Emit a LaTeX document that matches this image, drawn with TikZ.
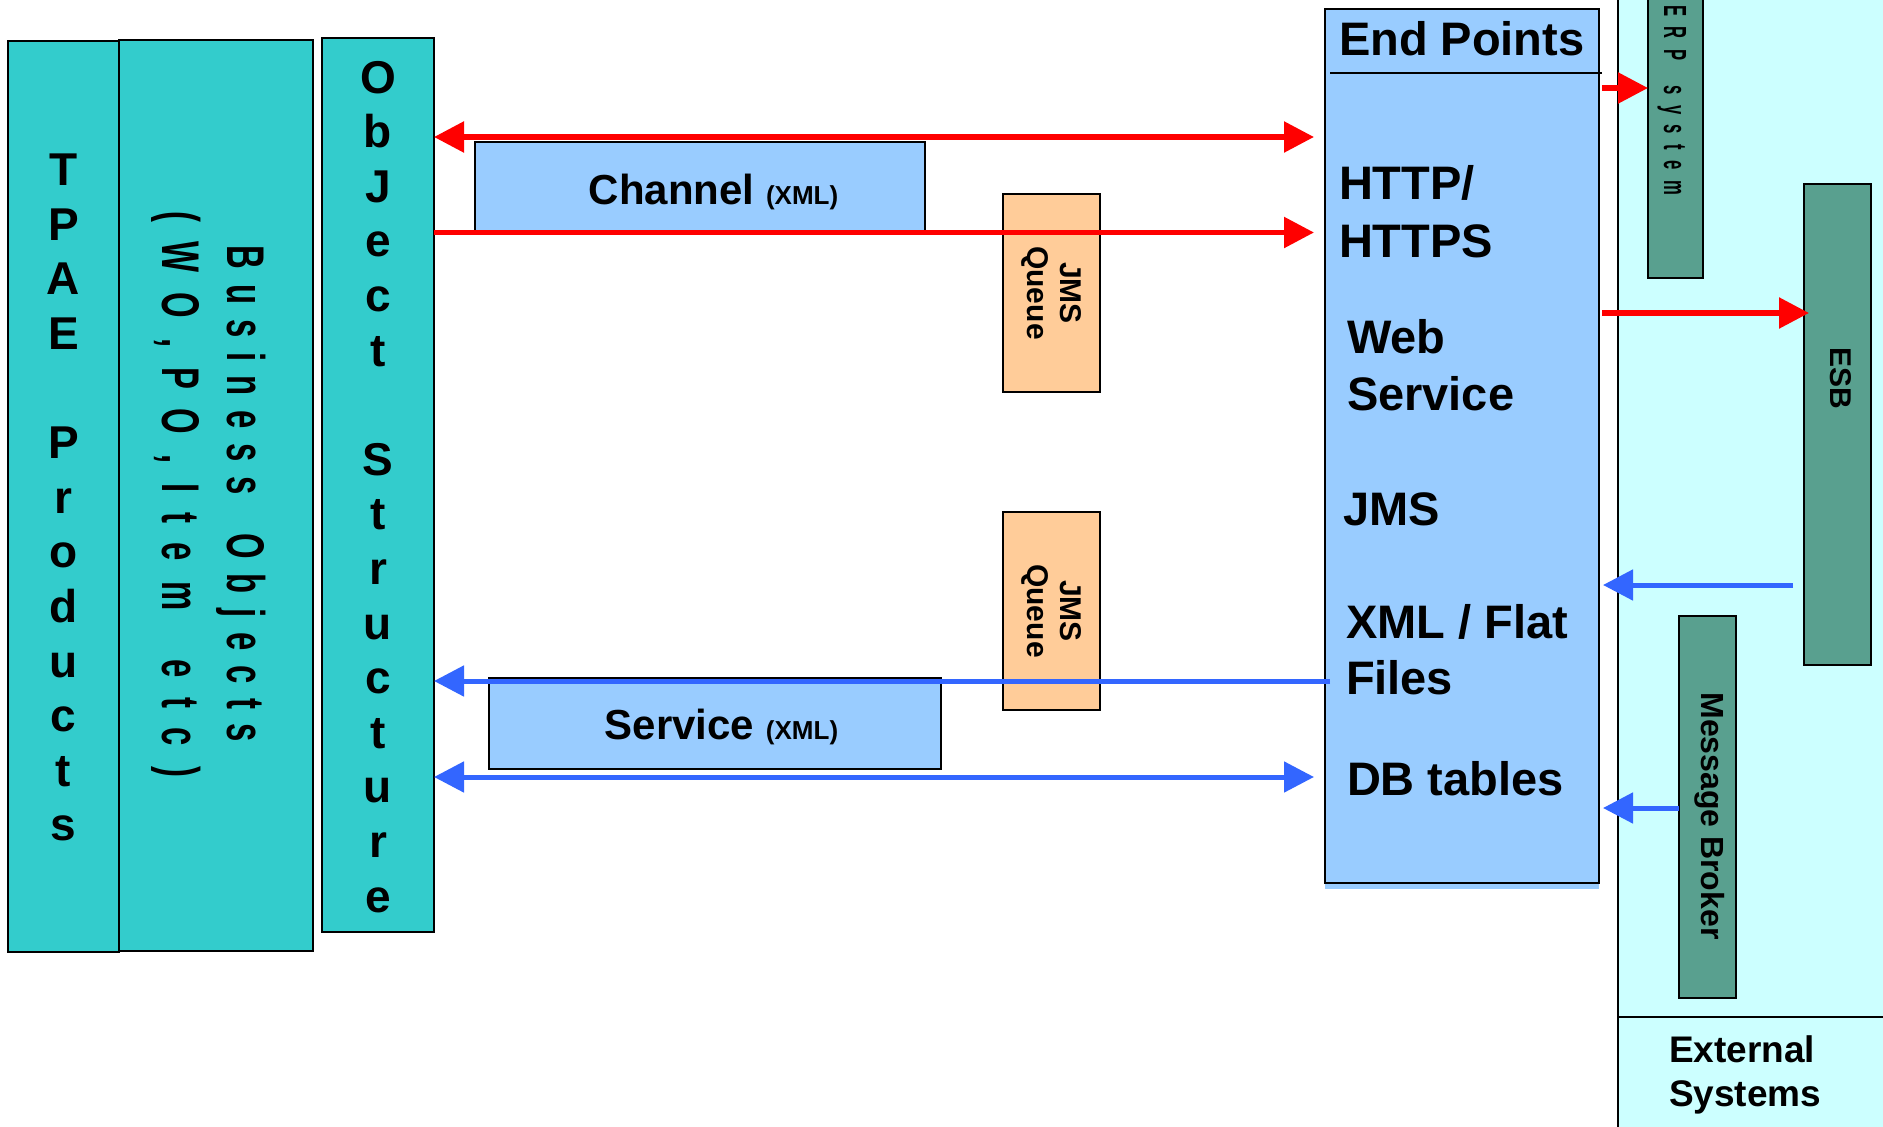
\documentclass[tikz,border=0pt]{standalone}
\usepackage{fontspec}
\setmainfont{Liberation Sans}
\usepackage{graphicx}
\usetikzlibrary{arrows.meta,calc}
\definecolor{tealA}{HTML}{33CCCC}
\definecolor{epblue}{HTML}{99CCFF}
\definecolor{peach}{HTML}{FFCC99}
\definecolor{extgreen}{HTML}{59A08F}
\definecolor{extfill}{HTML}{CCFFFF}
\definecolor{arrred}{HTML}{FF0000}
\definecolor{arrblue}{HTML}{3366FF}
\newdimen\lspc
\def\spcA#1{#1\spcB}
\def\spcB#1{\ifx#1\relax\else\kern\lspc#1\expandafter\spcB\fi}
\tikzset{
  tri/.tip={Triangle[length=30pt,width=30pt]},
  box/.style={draw=black, line width=2.2pt, inner sep=0pt, outer sep=0pt},
  region/.style={fill=extfill, draw=none, inner sep=0pt, outer sep=0pt},
  redline/.style={draw=arrred, fill=arrred, line width=5.5pt},
  blueline/.style={draw=arrblue, fill=arrblue, line width=5pt},
  lbl/.style={inner sep=0pt, outer sep=0pt, font=\bfseries},
}
\begin{document}
\begin{tikzpicture}[x=1pt,y=-1pt]
\useasboundingbox (0,0) rectangle (1883,1127);
\fill[white] (0,0) rectangle (1883,1127);

% external systems region
\node[region, minimum width=272pt, minimum height=1140pt] (ext) at (1754,565) {};
\draw[line width=2pt] (ext.north west) -- (ext.south west);
\draw[line width=2pt] (ext.west |- 0,1016.5) -- (ext.east |- 0,1016.5);

% left columns
\node[box, fill=tealA, minimum width=111pt, minimum height=911pt] (tpae) at (63.5,496.5) {};
\node[box, fill=tealA, minimum width=194pt, minimum height=911pt] (bo) at (216,495.5) {};
\node[box, fill=tealA, minimum width=112pt, minimum height=894pt] (obj) at (378,485) {};

\node[lbl, anchor=north, align=center, font=\fontsize{46pt}{54.6pt}\selectfont\bfseries] (tpaet) at (63.5,154)
  {T\\P\\A\\E\\~\\P\\r\\o\\d\\u\\c\\t\\s};
\node[lbl, anchor=north, align=center, font=\fontsize{46pt}{54.6pt}\selectfont\bfseries] (objt) at (378,61)
  {O\\b\\J\\e\\c\\t\\~\\S\\t\\r\\u\\c\\t\\u\\r\\e};
\node[lbl, rotate=-90, anchor=north, align=center, font=\fontsize{53pt}{65pt}\selectfont\bfseries] (bot) at (266,494)
  {\scalebox{0.62}[1]{\lspc=23.7pt\spcA Business~Objects\relax}\\
   \scalebox{0.62}[1]{\lspc=32pt\spcA (WO,PO,Item~etc)\relax}};

% middle boxes
\node[box, line width=2pt, fill=epblue, minimum width=450pt, minimum height=89pt] (chan) at (700,186.5) {};
\node[lbl, anchor=base, font=\fontsize{42pt}{50pt}\selectfont\bfseries] (chant) at (713.5,204)
  {Channel {\fontsize{26pt}{30pt}\selectfont(XML)}};
\node[box, line width=2pt, fill=epblue, minimum width=452pt, minimum height=91pt] (serv) at (715,723.5) {};
\node[lbl, anchor=base, font=\fontsize{42pt}{50pt}\selectfont\bfseries] (servt) at (721.5,739)
  {Service {\fontsize{26pt}{30pt}\selectfont(XML)}};

\node[box, fill=peach, minimum width=97pt, minimum height=198pt] (jmsA) at (1051.5,293) {};
\node[lbl, rotate=-90, align=center, font=\fontsize{30pt}{33pt}\selectfont\bfseries] (jmsAt) at (jmsA) {JMS\\Queue};
\node[box, fill=peach, minimum width=97pt, minimum height=198pt] (jmsB) at (1051.5,611) {};
\node[lbl, rotate=-90, align=center, font=\fontsize{30pt}{33pt}\selectfont\bfseries] (jmsBt) at (jmsB) {JMS\\Queue};

% end points
\node[box, fill=epblue, minimum width=274pt, minimum height=874pt] (ep) at (1462,446) {};
\fill[epblue] ($(ep.south west)+(0,1.2)$) rectangle ($(ep.south east)+(0,6)$);
\draw[line width=2pt] ($(ep.west |- 0,73)+(5,0)$) -- ($(ep.east |- 0,73)+(3,0)$);
\node[lbl, anchor=base west, font=\fontsize{47pt}{57pt}\selectfont\bfseries] (ept) at (1339,55) {End Points};
\node[lbl, anchor=north west, align=left, font=\fontsize{47pt}{58pt}\selectfont\bfseries] (http) at (1339,165) {HTTP/\\HTTPS};
\node[lbl, anchor=north west, align=left, font=\fontsize{47pt}{57pt}\selectfont\bfseries] (ws) at (1347,319) {Web\\Service};
\node[lbl, anchor=base west, font=\fontsize{47pt}{57pt}\selectfont\bfseries] (jms) at (1343,525) {JMS};
\node[lbl, anchor=north west, align=left, font=\fontsize{47pt}{56pt}\selectfont\bfseries] (xml) at (1346,604) {XML / Flat\\Files};
\node[lbl, anchor=base west, font=\fontsize{47pt}{57pt}\selectfont\bfseries] (db) at (1347,795) {DB tables};

% external systems
\node[box, fill=extgreen, minimum width=55pt, minimum height=288pt] (erp) at (1675.5,134) {};
\node[lbl, rotate=-90, anchor=north, font=\fontsize{32pt}{38pt}\selectfont\bfseries] (erpt) at (1686,100)
  {\scalebox{0.52}[1]{\lspc=20pt\spcA ERP~system\relax}};
\node[box, fill=extgreen, minimum width=67pt, minimum height=481pt] (esb) at (1837.5,424.5) {};
\node[lbl, rotate=-90, anchor=north, font=\fontsize{30pt}{36pt}\selectfont\bfseries] (esbt) at (1851,378.5) {ESB};
\node[box, fill=extgreen, minimum width=57pt, minimum height=382pt] (mb) at (1707.5,807) {};
\node[lbl, rotate=-90, anchor=north, font=\fontsize{32pt}{38pt}\selectfont\bfseries] (mbt) at (1724.5,816) {Message Broker};
\node[lbl, anchor=north west, align=left, font=\fontsize{37pt}{44pt}\selectfont\bfseries] (extt) at (1669,1036) {External\\Systems};

% connectors
\draw[redline, tri-tri, shorten >=11pt] (obj.east |- 0,137) -- (ep.west |- 0,137);
\draw[redline, -tri, shorten >=11pt] (obj.east |- 0,232.5) -- (ep.west |- 0,232.5);
\draw[blueline, -tri, shorten <=-5pt] (ep.west |- 0,681) -- (obj.east |- 0,681);
\draw[blueline, tri-tri, shorten >=11pt] (obj.east |- 0,777) -- (ep.west |- 0,777);
\draw[redline, -tri, shorten <=3pt] (ep.east |- 0,88) -- (erp.west |- 0,88);
\draw[redline, -tri, shorten <=3pt, shorten >=-5pt] (ep.east |- 0,313) -- (esb.west |- 0,313);
\draw[blueline, -tri, shorten <=11pt, shorten >=4pt] (esb.west |- 0,585) -- (ep.east |- 0,585);
\draw[blueline, -tri, shorten >=4pt] (mb.west |- 0,808) -- (ep.east |- 0,808);
\end{tikzpicture}
\end{document}
